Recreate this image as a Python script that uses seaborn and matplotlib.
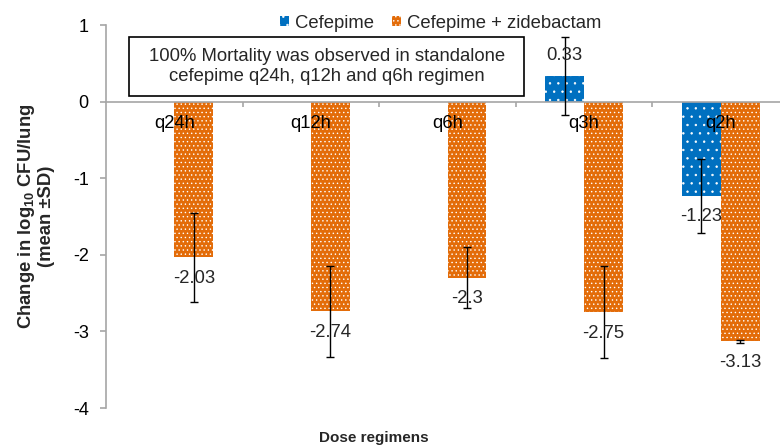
import matplotlib
matplotlib.use('Agg')
import matplotlib.pyplot as plt
import seaborn as sns
import pandas as pd
import numpy as np
from matplotlib.patches import Patch, Rectangle
from matplotlib.ticker import FixedLocator

# ---- data ----
regimens = ['q24h', 'q12h', 'q6h', 'q3h', 'q2h']
series = ['Cefepime', 'Cefepime + zidebactam']
cefepime = [np.nan, np.nan, np.nan, 0.33, -1.23]
cefepime_sd = [np.nan, np.nan, np.nan, 0.51, 0.48]
combo = [-2.03, -2.74, -2.3, -2.75, -3.13]
combo_sd = [0.58, 0.60, 0.40, 0.60, 0.02]
yticks = [-4, -3, -2, -1, 0, 1]
colors = ['#0070C0', '#E36C09']
hatches = ['..', '....']
note = "100% Mortality was observed in standalone\ncefepime q24h, q12h and q6h regimen"
ylabel = 'Change in log$_\\mathbf{10}$ CFU/lung\n(mean ±SD)'
xlabel = 'Dose regimens'

sns.set_theme(style='ticks')
plt.rcParams['font.family'] = ['Liberation Sans', 'DejaVu Sans']
plt.rcParams['mathtext.fontset'] = 'custom'
plt.rcParams['mathtext.rm'] = 'Liberation Sans'
plt.rcParams['mathtext.bf'] = 'Liberation Sans:bold'
plt.rcParams['hatch.linewidth'] = 0.5

rows = []
for name, vals, sds in [(series[0], cefepime, cefepime_sd), (series[1], combo, combo_sd)]:
    for r, v, s in zip(regimens, vals, sds):
        if not np.isnan(v):
            rows.append(dict(regimen=r, series=name, value=v, sd=s))
df = pd.DataFrame(rows)

fig = plt.figure(figsize=(7.8, 4.48), dpi=100)
ax = fig.add_axes([106/780, 40/448, 683/780, 383/448])

sns.barplot(data=df, x='regimen', y='value', hue='series', order=regimens,
            hue_order=series, palette=colors, width=0.57, errorbar=None,
            legend=False, ax=ax, saturation=1)

for cont, name, h in zip(ax.containers, series, hatches):
    sub = df[df.series == name].set_index('regimen')
    labels = []
    for p in cont:
        p.set_hatch(h)
        p.set_edgecolor('white')
        p.set_linewidth(0)
        cx = p.get_x() + p.get_width() / 2
        r = regimens[int(round(cx))]
        v = sub.loc[r, 'value']
        s = sub.loc[r, 'sd']
        ax.errorbar(cx, v, yerr=s, fmt='none', ecolor='black', elinewidth=1,
                    capsize=3, capthick=1, zorder=4)
        labels.append(f"{v:g}")
    ax.bar_label(cont, labels=labels, padding=9, fontsize=13.3, zorder=5)

ax.set_xlim(-0.5, 4.5)
ax.set_ylim(-4, 1)
ax.set_yticks(yticks)
ax.set_yticklabels([str(t) for t in yticks])
ax.set_axisbelow(False)
for s in ['top', 'right']:
    ax.spines[s].set_visible(False)
ax.spines['bottom'].set_position(('data', 0))
for s in ['left', 'bottom']:
    ax.spines[s].set_color('#A6A6A6')
    ax.spines[s].set_linewidth(1.2)
ax.tick_params(axis='y', length=4.5, width=1.2, color='#A6A6A6', pad=8,
               labelsize=13, labelcolor='black')
ax.tick_params(axis='x', which='major', length=0, pad=10, labelsize=13.3,
               labelcolor='black')
ax.xaxis.set_minor_locator(FixedLocator([0.5, 1.5, 2.5, 3.5]))
ax.tick_params(axis='x', which='minor', length=3.5, width=1.2, color='#A6A6A6',
               direction='out')
ax.set_xlabel('')
ax.set_ylabel(ylabel, fontweight='bold', fontsize=13.3, linespacing=1.1)
ax.yaxis.set_label_coords((55-106)/683, 0.5)

fig.text(374/780, 1-438/448, xlabel, ha='center', va='center',
         fontweight='bold', fontsize=11)

handles = [Patch(facecolor=c, hatch=h, edgecolor='white', linewidth=0)
           for c, h in zip(colors, hatches)]
fig.legend(handles, series, loc='center left', bbox_to_anchor=(280/780, 1-23/448),
           ncol=2, frameon=False, fontsize=13.3, handlelength=0.5,
           handleheight=0.5, handletextpad=0.3, columnspacing=1.0,
           borderaxespad=0, borderpad=0)

fig.add_artist(Rectangle((129/780, 1-96/448), 395/780, 59/448,
                         transform=fig.transFigure, fill=False,
                         edgecolor='black', linewidth=1.2))
fig.text(327/780, 1-66.5/448, note, ha='center', va='center', fontsize=13.3,
         linespacing=1.25)

fig.savefig('out.png', dpi=100)
